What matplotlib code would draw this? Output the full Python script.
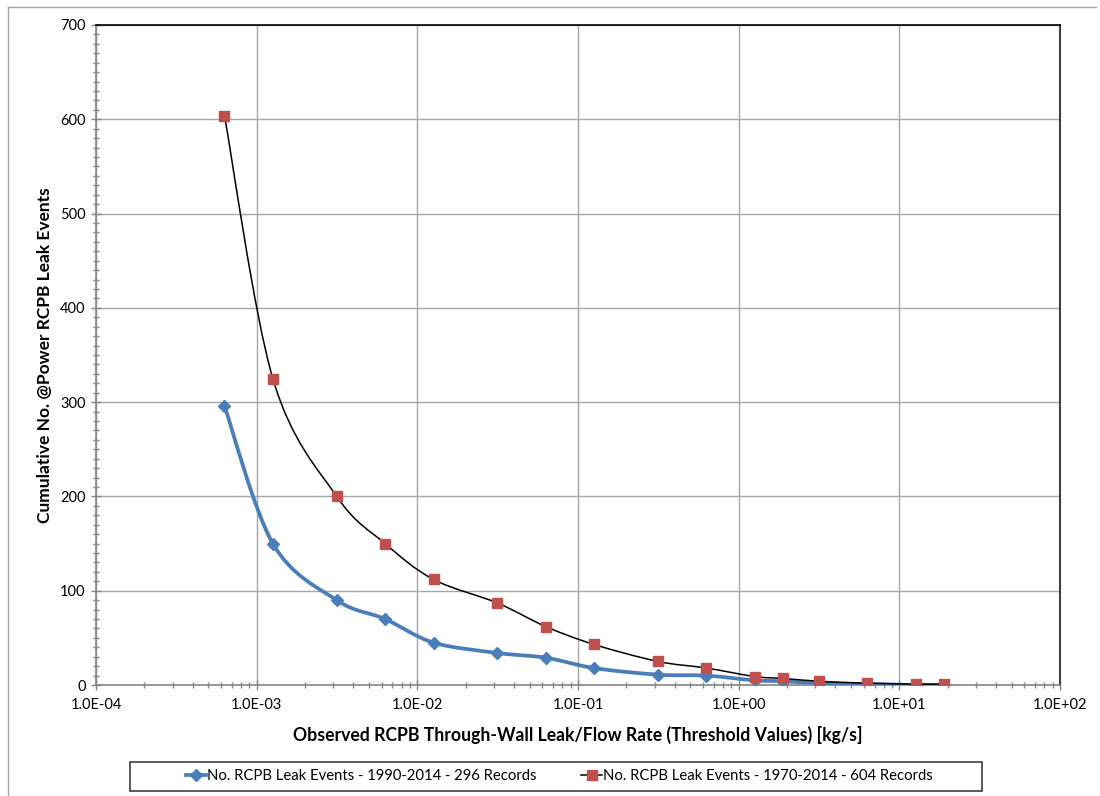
import numpy as np
import matplotlib
matplotlib.use("Agg")
import matplotlib.pyplot as plt
from matplotlib.path import Path
from matplotlib.patches import PathPatch, Rectangle
from matplotlib.lines import Line2D
from matplotlib.ticker import FuncFormatter, MultipleLocator, LogLocator, NullFormatter

plt.rcParams['font.family'] = ['Lato', 'DejaVu Sans']

# leak rate thresholds [kg/s]
rates = [0.00063, 0.00126, 0.00315, 0.0063, 0.0126, 0.0315, 0.063, 0.126,
         0.315, 0.63, 1.26, 1.89, 3.15, 6.3, 12.6, 18.9]
events_1990 = [296, 150, 90, 70, 45, 34, 29, 18, 11, 10, 5, 4, 2, 1, 0, 0]
events_1970 = [604, 325, 200, 150, 112, 87, 62, 43, 25, 18, 9, 7, 4, 2, 1, 1]
labels = ["No. RCPB Leak Events - 1990-2014 - 296 Records",
          "No. RCPB Leak Events - 1970-2014 - 604 Records"]


def smooth_path(xs, ys):
    # excel-style smoothed line: cubic bezier through the points (log-x space)
    p = np.column_stack([np.log10(xs), np.asarray(ys, float)])
    n = len(p)
    verts = [p[0]]
    codes = [Path.MOVETO]
    for i in range(n - 1):
        a = p[i - 1] if i > 0 else p[i]
        b = p[i + 2] if i + 2 < n else p[i + 1]
        c1 = p[i] + (p[i + 1] - a) / 6.0
        c2 = p[i + 1] - (b - p[i]) / 6.0
        verts += [c1, c2, p[i + 1]]
        codes += [Path.CURVE4] * 3
    verts = np.array(verts)
    verts[:, 0] = 10 ** verts[:, 0]
    return Path(verts, codes)


fig = plt.figure(figsize=(11, 7.96), dpi=100)
ax = fig.add_axes([0.0873, 0.1394, 0.8764, 0.8292])
ax.set_xscale('log')
ax.set_xlim(1e-4, 1e2)
ax.set_ylim(0, 700)

blue = '#4A7EBB'
red = '#C0504D'

ax.add_patch(PathPatch(smooth_path(rates, events_1990), fill=False,
                       edgecolor=blue, lw=2.7, zorder=3))
ax.plot(rates, events_1990, ls='none', marker='D', ms=6.5, color=blue,
        mec=blue, zorder=4)
ax.add_patch(PathPatch(smooth_path(rates, events_1970), fill=False,
                       edgecolor='black', lw=1.1, zorder=5))
ax.plot(rates, events_1970, ls='none', marker='s', ms=7, color=red,
        mec=red, zorder=6)

ax.yaxis.set_major_locator(MultipleLocator(100))
ax.yaxis.set_minor_locator(MultipleLocator(10))
ax.xaxis.set_major_locator(LogLocator(base=10, numticks=10))
ax.xaxis.set_minor_locator(LogLocator(base=10, subs=np.arange(2, 10), numticks=20))
ax.xaxis.set_major_formatter(FuncFormatter(lambda v, pos: f"{v:.1E}"))
ax.xaxis.set_minor_formatter(NullFormatter())

ax.grid(True, which='major', color='#A6A6A6', lw=1)
ax.set_axisbelow(True)
ax.tick_params(which='both', direction='inout', color='#868686',
               labelsize=10.5, labelcolor='black')
ax.tick_params(which='major', length=7, width=1, pad=6)
ax.tick_params(which='minor', length=5, width=1)
ax.tick_params(axis='y', pad=4)
for s in ['left', 'bottom']:
    ax.spines[s].set_color('#868686')
    ax.spines[s].set_linewidth(1.2)
ax.spines['top'].set_color('black')
ax.spines['top'].set_linewidth(1.2)
ax.spines['right'].set_color('#404040')
ax.spines['right'].set_linewidth(1.5)

ax.set_xlabel('Observed RCPB Through-Wall Leak/Flow Rate (Threshold Values) [kg/s]',
              fontsize=12.7, fontweight='bold', labelpad=10)
ax.set_ylabel('Cumulative No. @Power RCPB Leak Events',
              fontsize=12.5, fontweight='bold', labelpad=5)

handles = [Line2D([], [], color=blue, lw=2.7, marker='D', ms=6.5),
           Line2D([], [], color='black', lw=1.1, marker='s', ms=7,
                  mfc=red, mec=red)]
leg = fig.legend(handles, labels, loc='center', bbox_to_anchor=(559 / 1100, 1 - 776.5 / 796),
                 ncol=2, fontsize=10.7, frameon=False,
                 handlelength=1.4, handletextpad=0.05, columnspacing=3.0)

# legend box
fig.add_artist(Rectangle((130 / 1100, 1 - 791 / 796), 852 / 1100, 29 / 796,
                         fill=False, edgecolor='#404040', lw=1.2,
                         transform=fig.transFigure))

# outer chart border (top and left visible)
fig.add_artist(Line2D([8 / 1100, 1096 / 1100], [1 - 7 / 796, 1 - 7 / 796],
                      color='#A6A6A6', lw=1, transform=fig.transFigure))
fig.add_artist(Line2D([8 / 1100, 8 / 1100], [1 - 7 / 796, 0],
                      color='#A6A6A6', lw=1, transform=fig.transFigure))

fig.savefig('out.png', dpi=100)
